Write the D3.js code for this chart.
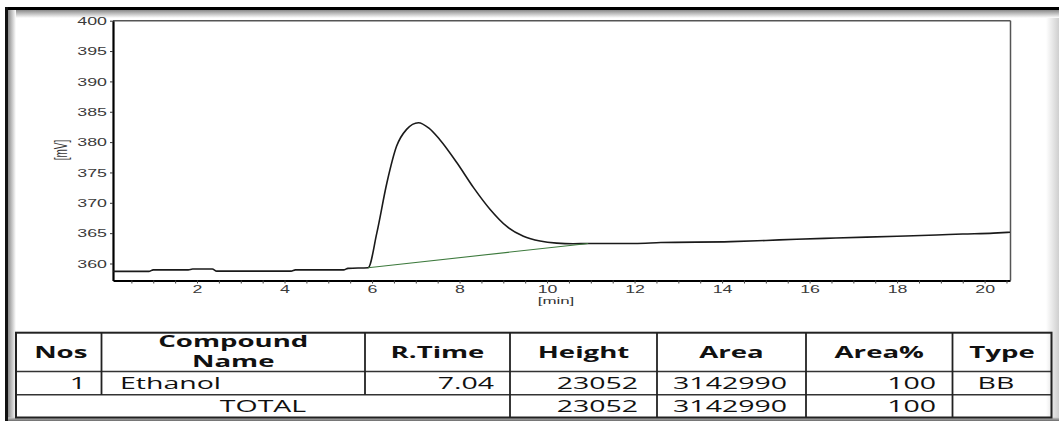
<!DOCTYPE html>
<html>
<head>
<meta charset="utf-8">
<script src="https://cdn.jsdelivr.net/npm/d3@7"></script>
<style>
  html, body { margin: 0; padding: 0; background: #fff; }
  svg { display: block; }
</style>
</head>
<body>
<svg id="chart" width="1059" height="421"></svg>
<script>
// ---------------- DATA ----------------
const timeMin = [0.08, 0.9, 1.0, 1.8, 1.9, 2.35, 2.45, 4.15, 4.25, 5.35, 5.45, 5.91,
  6.11, 6.34, 6.56, 6.79, 7.06, 7.3, 7.55, 7.94, 8.32, 8.70, 9.08, 9.46, 9.84, 10.22, 10.6, 10.94,
  11.5, 12.0, 12.6, 14.2, 15.0, 15.7, 16.6, 17.3, 18.0, 18.9, 19.5, 20.2, 20.58];
const signalMV = [358.7, 358.7, 358.95, 358.95, 359.1, 359.1, 358.75, 358.75, 358.95, 358.95, 359.2, 359.3,
  365.05, 373.3, 379.3, 382.1, 383.2, 382.3, 380.4, 376.6, 372.5, 368.9, 366.1, 364.5, 363.7, 363.35, 363.25, 363.3,
  363.3, 363.3, 363.45, 363.6, 363.8, 364.0, 364.2, 364.35, 364.5, 364.7, 364.85, 365.0, 365.15];
const baselineTime = [5.91, 10.94];
const baselineMV = [359.3, 363.3];

const yTicks = [360, 365, 370, 375, 380, 385, 390, 395, 400];
const xTicks = [2, 4, 6, 8, 10, 12, 14, 16, 18, 20];
const xAxisTitle = "[min]";
const yAxisTitle = "[mV]";

const headers = [["Nos"], ["Compound", "Name"], ["R.Time"], ["Height"], ["Area"], ["Area%"], ["Type"]];
const peakRow = ["1", "Ethanol", "7.04", "23052", "3142990", "100", "BB"];
const totalRow = ["TOTAL", "23052", "3142990", "100", ""];

// ---------------- LAYOUT ----------------
const SX = 1.78; // horizontal stretch of the original image
const svg = d3.select("#chart");

// frame
const defs = svg.append("defs");
function grad(id, x2, y2, c1, c2) {
  const g = defs.append("linearGradient").attr("id", id)
    .attr("x1", 0).attr("y1", 0).attr("x2", x2).attr("y2", y2);
  g.append("stop").attr("offset", "0%").attr("stop-color", c1);
  g.append("stop").attr("offset", "100%").attr("stop-color", c2);
}
grad("gTop", 0, 1, "#8a8a8a", "#ffffff");
grad("gLeft", 1, 0, "#8a8a8a", "#ffffff");
grad("gRight", 1, 0, "#ffffff", "#cfcfcf");
grad("gBottom", 0, 1, "#c8c8c8", "#6a6a6a");

svg.append("rect").attr("x", 0).attr("y", 0).attr("width", 1059).attr("height", 421).attr("fill", "#fff");
svg.append("rect").attr("x", 1046).attr("y", 10).attr("width", 13).attr("height", 411).attr("fill", "url(#gRight)");
svg.append("rect").attr("x", 8).attr("y", 10).attr("width", 1051).attr("height", 8).attr("fill", "url(#gTop)");
svg.append("rect").attr("x", 8).attr("y", 10).attr("width", 8).attr("height", 411).attr("fill", "url(#gLeft)");
svg.append("rect").attr("x", 8).attr("y", 417.5).attr("width", 1051).attr("height", 3.5).attr("fill", "url(#gBottom)");
svg.append("rect").attr("x", 6).attr("y", 7).attr("width", 1053).attr("height", 3).attr("fill", "#000");
svg.append("rect").attr("x", 5).attr("y", 7).attr("width", 3).attr("height", 414).attr("fill", "#111");

// scales
const x = d3.scaleLinear().domain([0.08, 20.58]).range([113, 1010]);
const y = d3.scaleLinear().domain([357.2, 400]).range([280.5, 20.7]);

// plot box top/right
svg.append("line").attr("x1", 113).attr("x2", 1010.5).attr("y1", 20.7).attr("y2", 20.7)
  .attr("stroke", "#555").attr("stroke-width", 1.5);
svg.append("line").attr("x1", 1010.5).attr("x2", 1010.5).attr("y1", 20.7).attr("y2", 280.5)
  .attr("stroke", "#555").attr("stroke-width", 1.5);

const fontAxis = "'Liberation Sans', Arial, sans-serif";

// y axis
const yAxis = svg.append("g").attr("transform", "translate(113,0)")
  .call(d3.axisLeft(y).tickValues(yTicks).tickSize(3).tickSizeOuter(0).tickFormat(d3.format("d")));
yAxis.select(".domain").attr("stroke", "#000").attr("stroke-width", 2.2);
yAxis.selectAll(".tick line").attr("stroke", "#333");
yAxis.selectAll(".tick text")
  .attr("x", -6 / SX).attr("dy", "0.36em")
  .attr("transform", `scale(${SX},1)`)
  .attr("font-family", fontAxis).attr("font-size", 10).attr("fill", "#3a3a3a");

// x axis minor ticks
const xMinor = d3.range(0.5, 20.51, 0.5);
const xMinorAxis = svg.append("g").attr("transform", "translate(0,280.5)")
  .call(d3.axisBottom(x).tickValues(xMinor).tickSize(3).tickSizeOuter(0).tickFormat(""));
xMinorAxis.select(".domain").attr("stroke", "#000").attr("stroke-width", 2.2);
xMinorAxis.selectAll(".tick line").attr("stroke", "#444");

const xAxis = svg.append("g").attr("transform", "translate(0,280.5)")
  .call(d3.axisBottom(x).tickValues(xTicks).tickSize(0).tickSizeOuter(0).tickFormat(d3.format("d")));
xAxis.select(".domain").remove();
xAxis.selectAll(".tick text")
  .attr("y", 13).attr("dy", 0)
  .attr("transform", `scale(${SX},1)`)
  .attr("font-family", fontAxis).attr("font-size", 10).attr("fill", "#3a3a3a");

// axis titles
svg.append("text").attr("transform", `translate(556,304) scale(${SX},1)`)
  .attr("text-anchor", "middle").attr("font-family", fontAxis).attr("font-size", 9.5).attr("fill", "#333")
  .text(xAxisTitle);
svg.append("text").attr("transform", `translate(67,150) scale(${SX},1) rotate(-90)`)
  .attr("text-anchor", "middle").attr("font-family", fontAxis).attr("font-size", 10).attr("fill", "#333")
  .text(yAxisTitle);

// signal
const pts = timeMin.map((t, i) => [t, signalMV[i]]);
svg.append("path").datum(pts)
  .attr("fill", "none").attr("stroke", "#1a1a1a").attr("stroke-width", 1.6)
  .attr("stroke-linejoin", "round")
  .attr("d", d3.line().x(d => x(d[0])).y(d => y(d[1])).curve(d3.curveMonotoneX));
const bpts = baselineTime.map((t, i) => [t, baselineMV[i]]);
svg.append("path").datum(bpts)
  .attr("fill", "none").attr("stroke", "#3d7a3d").attr("stroke-width", 1.1)
  .attr("d", d3.line().x(d => x(d[0])).y(d => y(d[1])));

// ---------------- TABLE ----------------
const colX = [16, 101.5, 365, 510, 657, 806, 952.5, 1051.5];
const rowY = [332.7, 371.5, 394.8, 417.5];
const fontTable = "'Open Sans', 'Noto Sans', sans-serif";
const tbl = svg.append("g");

[rowY[1], rowY[2]].forEach(yy => {
  tbl.append("line").attr("x1", colX[0]).attr("x2", colX[7]).attr("y1", yy).attr("y2", yy)
    .attr("stroke", "#333").attr("stroke-width", 1.5);
});
colX.slice(1, 7).forEach((xx, i) => {
  const spanned = (i === 0 || i === 1);
  tbl.append("line").attr("x1", xx).attr("x2", xx)
    .attr("y1", rowY[0]).attr("y2", spanned ? rowY[2] : rowY[3])
    .attr("stroke", "#222").attr("stroke-width", 1.8);
});
tbl.append("rect").attr("x", colX[0]).attr("y", rowY[0])
  .attr("width", colX[7] - colX[0]).attr("height", rowY[3] - rowY[0])
  .attr("fill", "none").attr("stroke", "#222").attr("stroke-width", 2);

function stext(xp, yp, str, anchor, weight, size) {
  tbl.append("text").attr("transform", `translate(${xp},${yp}) scale(${SX},1)`)
    .attr("text-anchor", anchor).attr("font-family", fontTable)
    .attr("font-weight", weight).attr("font-size", size).attr("fill", "#111")
    .text(str);
}

headers.forEach((lines, i) => {
  const cx = (colX[i] + colX[i + 1]) / 2 + (i === 0 ? 2 : 0);
  const mid = (rowY[0] + rowY[1]) / 2;
  if (lines.length === 1) {
    stext(cx, mid + 5.6, lines[0], "middle", 700, 15.5);
  } else {
    stext(cx, mid - 5.6, lines[0], "middle", 700, 15.5);
    stext(cx, mid + 15.3, lines[1], "middle", 700, 15.5);
  }
});

const align = ["end", "start", "end", "end", "end", "end", "middle"];
const pad = [15.5, 18.5, 16, 19, 19, 16.5, 0];
const r1 = (rowY[1] + rowY[2]) / 2 + 5.8;
peakRow.forEach((v, i) => {
  let xp;
  if (align[i] === "end") xp = colX[i + 1] - pad[i];
  else if (align[i] === "start") xp = colX[i] + pad[i];
  else xp = (colX[i] + colX[i + 1]) / 2 - 6;
  stext(xp, r1, v, align[i], 400, 16);
});

const r2 = (rowY[2] + rowY[3]) / 2 + 5.4;
stext((colX[0] + colX[3]) / 2, r2, totalRow[0], "middle", 400, 16);
totalRow.slice(1).forEach((v, j) => {
  const i = j + 3;
  if (v) stext(colX[i + 1] - pad[i], r2, v, "end", 400, 16);
});
</script>
</body>
</html>
